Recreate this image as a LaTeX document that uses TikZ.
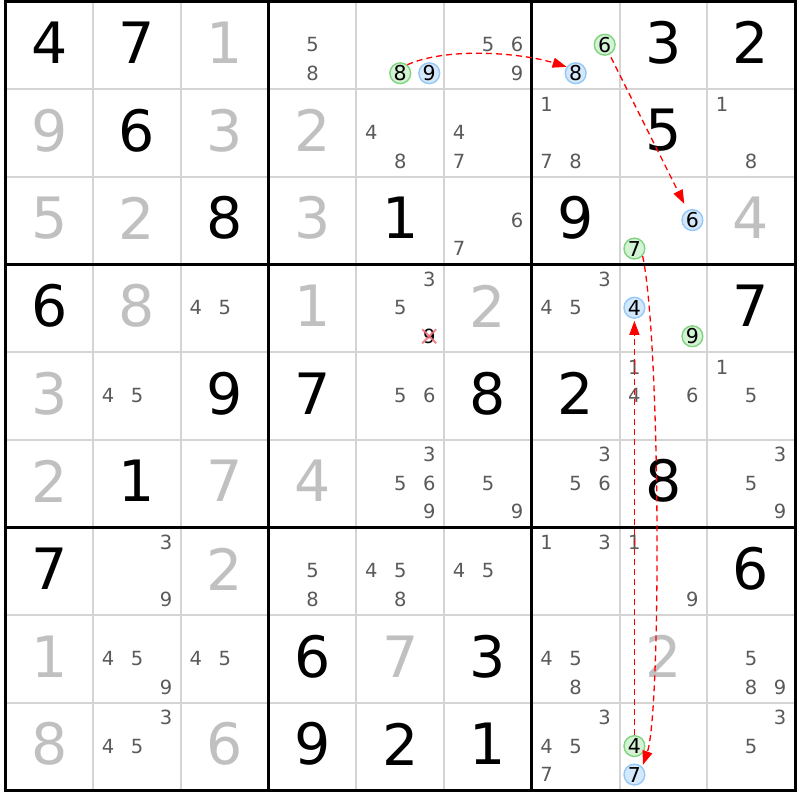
\documentclass[tikz,border=0pt]{standalone}
\usepackage{fontspec}
\setmainfont{DejaVu Sans}
\usetikzlibrary{arrows.meta}
\definecolor{givgray}{RGB}{192,192,192}
\definecolor{candgray}{RGB}{90,90,90}
\definecolor{thingray}{RGB}{212,212,212}
\definecolor{gfill}{RGB}{212,242,212}
\definecolor{gline}{RGB}{128,212,128}
\definecolor{bfill}{RGB}{212,232,252}
\definecolor{bline}{RGB}{150,200,245}
\definecolor{xred}{RGB}{240,110,120}
\newcommand\sdbig[4]{\node[#4] (d-#1-#2) at ({5.5+87.72*(#2+0.5)},{1.5+87.67*(#1+0.5)-2.5}) {#3};}
\newcommand\sdcand[4]{%
  \pgfmathsetmacro\sdx{(mod(#3-1,3)-1)*29}%
  \pgfmathsetmacro\sdy{(floor((#3-1)/3)-1)*28.5}%
  \node[cand,#4] (k-#1-#2-#3) at ({5.5+87.72*(#2+0.5)+\sdx},{1.5+87.67*(#1+0.5)-0.6+\sdy}) {#3};}
\newcommand\sdcands[3]{\foreach \k in {#3} {\sdcand{#1}{#2}{\k}{}}}
\begin{document}
\begin{tikzpicture}[x=1pt,y=-1pt,
  solved/.style={inner sep=0pt,text=black,font=\fontsize{57}{57}\selectfont},
  given/.style={inner sep=0pt,text=givgray,font=\fontsize{57}{57}\selectfont},
  cand/.style={inner sep=0pt,text=candgray,font=\fontsize{19.5}{19.5}\selectfont},
  gcirc/.style={circle,draw=gline,fill=gfill,line width=1.4pt,minimum size=20.8pt,text=black,font=\fontsize{20.5}{20.5}\selectfont},
  bcirc/.style={circle,draw=bline,fill=bfill,line width=1.4pt,minimum size=20.8pt,text=black,font=\fontsize{20.5}{20.5}\selectfont},
  thinline/.style={draw=thingray,line width=2pt},
  thickline/.style={draw=black,line width=3pt},
  chain/.style={draw=red,line width=1.3pt,dash pattern=on 6pt off 4pt,-{Triangle[length=14pt,width=10pt]}},
  xmark/.style={draw=xred,line width=2pt,opacity=0.85}]
\useasboundingbox (0,0) rectangle (800,800);
\fill[white] (0,0) rectangle (800,800);
\foreach \i in {1,2,4,5,7,8} {
  \draw[thinline] ({5.5+87.72*\i},1.5) -- ({5.5+87.72*\i},790.5);
  \draw[thinline] (5.5,{1.5+87.67*\i}) -- (795,{1.5+87.67*\i});
}
\foreach \i in {3,6} {
  \draw[thickline] ({5.5+87.72*\i},1.5) -- ({5.5+87.72*\i},790.5);
  \draw[thickline] (5.5,{1.5+87.67*\i}) -- (795,{1.5+87.67*\i});
}
\draw[thickline] (5.5,1.5) rectangle (795,790.5);
% row 0
\sdbig{0}{0}{4}{solved}\sdbig{0}{1}{7}{solved}\sdbig{0}{2}{1}{given}\sdbig{0}{7}{3}{solved}\sdbig{0}{8}{2}{solved}
\sdcands{0}{3}{5,8}\sdcands{0}{5}{5,6,9}
\sdcand{0}{4}{8}{gcirc}\sdcand{0}{4}{9}{bcirc}
\sdcand{0}{6}{6}{gcirc}\sdcand{0}{6}{8}{bcirc}
% row 1
\sdbig{1}{0}{9}{given}\sdbig{1}{1}{6}{solved}\sdbig{1}{2}{3}{given}\sdbig{1}{3}{2}{given}\sdbig{1}{7}{5}{solved}
\sdcands{1}{4}{4,8}\sdcands{1}{5}{4,7}\sdcands{1}{6}{1,7,8}\sdcands{1}{8}{1,8}
% row 2
\sdbig{2}{0}{5}{given}\sdbig{2}{1}{2}{given}\sdbig{2}{2}{8}{solved}\sdbig{2}{3}{3}{given}\sdbig{2}{4}{1}{solved}\sdbig{2}{6}{9}{solved}\sdbig{2}{8}{4}{given}
\sdcands{2}{5}{6,7}
\sdcand{2}{7}{6}{bcirc}\sdcand{2}{7}{7}{gcirc}
% row 3
\sdbig{3}{0}{6}{solved}\sdbig{3}{1}{8}{given}\sdbig{3}{3}{1}{given}\sdbig{3}{5}{2}{given}\sdbig{3}{8}{7}{solved}
\sdcands{3}{2}{4,5}\sdcands{3}{4}{3,5}\sdcand{3}{4}{9}{text=black}\sdcands{3}{6}{3,4,5}
\sdcand{3}{7}{4}{bcirc}\sdcand{3}{7}{9}{gcirc}
% row 4
\sdbig{4}{0}{3}{given}\sdbig{4}{2}{9}{solved}\sdbig{4}{3}{7}{solved}\sdbig{4}{5}{8}{solved}\sdbig{4}{6}{2}{solved}
\sdcands{4}{1}{4,5}\sdcands{4}{4}{5,6}\sdcands{4}{7}{1,4,6}\sdcands{4}{8}{1,5}
% row 5
\sdbig{5}{0}{2}{given}\sdbig{5}{1}{1}{solved}\sdbig{5}{2}{7}{given}\sdbig{5}{3}{4}{given}\sdbig{5}{7}{8}{solved}
\sdcands{5}{4}{3,5,6,9}\sdcands{5}{5}{5,9}\sdcands{5}{6}{3,5,6}\sdcands{5}{8}{3,5,9}
% row 6
\sdbig{6}{0}{7}{solved}\sdbig{6}{2}{2}{given}\sdbig{6}{8}{6}{solved}
\sdcands{6}{1}{3,9}\sdcands{6}{3}{5,8}\sdcands{6}{4}{4,5,8}\sdcands{6}{5}{4,5}\sdcands{6}{6}{1,3}\sdcands{6}{7}{1,9}
% row 7
\sdbig{7}{0}{1}{given}\sdbig{7}{3}{6}{solved}\sdbig{7}{4}{7}{given}\sdbig{7}{5}{3}{solved}\sdbig{7}{7}{2}{given}
\sdcands{7}{1}{4,5,9}\sdcands{7}{2}{4,5}\sdcands{7}{6}{4,5,8}\sdcands{7}{8}{5,8,9}
% row 8
\sdbig{8}{0}{8}{given}\sdbig{8}{2}{6}{given}\sdbig{8}{3}{9}{solved}\sdbig{8}{4}{2}{solved}\sdbig{8}{5}{1}{solved}
\sdcands{8}{1}{3,4,5}\sdcands{8}{6}{3,4,5,7}\sdcands{8}{8}{3,5}
\sdcand{8}{7}{4}{gcirc}\sdcand{8}{7}{7}{bcirc}
% chain
\draw[chain] (k-0-4-8.50) .. controls +(40,-18) and +(-45,-14) .. (k-0-6-8.145);
\draw[chain,shorten <=3pt,shorten >=7pt] (k-0-6-6) -- (k-2-7-6);
\draw[chain,shorten >=2pt] (k-2-7-7.-42) .. controls +(18,85) and +(19,-55) .. (k-8-7-7.45);
\draw[chain,shorten >=2pt] (k-8-7-4) -- (k-3-7-4);
% elimination mark
\draw[xmark] ([shift={(-7,-7)}]k-3-4-9.center) -- ([shift={(7,7)}]k-3-4-9.center);
\draw[xmark] ([shift={(-7,7)}]k-3-4-9.center) -- ([shift={(7,-7)}]k-3-4-9.center);
\end{tikzpicture}
\end{document}
